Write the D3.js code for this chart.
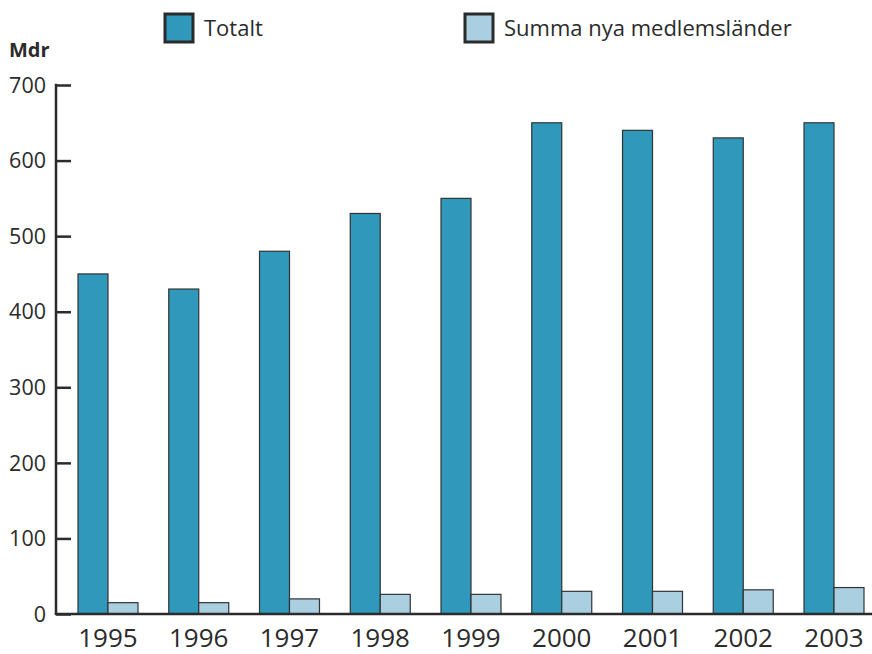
<!DOCTYPE html>
<html>
<head>
<meta charset="utf-8">
<script src="https://cdn.jsdelivr.net/npm/d3@7"></script>
<style>
  body { margin: 0; background: #fff; }
  svg { display: block; font-family: "Open Sans", "Liberation Sans", Arial, sans-serif; }
</style>
</head>
<body>
<svg id="chart" width="872" height="654"></svg>
<script>
// Données
const years = ["1995", "1996", "1997", "1998", "1999", "2000", "2001", "2002", "2003"];
const totalt = [450, 430, 480, 530, 550, 650, 640, 630, 650];
const nyaMedlem = [15, 15, 20, 26, 26, 30, 30, 32, 35];
const seriesNames = ["Totalt", "Summa nya medlemsländer"];
const yTicks = [0, 100, 200, 300, 400, 500, 600, 700];

const colors = ["#2f98bb", "#a9cfe1"];
const textColor = "#2b2b2b";

const svg = d3.select('#chart');

const rows = years.map((y, i) => ({year: y, values: [totalt[i], nyaMedlem[i]]}));

// Échelles
const x = d3.scaleBand()
    .domain(years)
    .range([78, 864])
    .paddingInner(0.339)
    .paddingOuter(0);

const xSub = d3.scaleBand()
    .domain([0, 1])
    .range([0, x.bandwidth()]);

const y = d3.scaleLinear()
    .domain([0, 700])
    .range([614, 85]);

const axisX = 56;

// Barres
const groups = svg.append('g')
    .selectAll('g')
    .data(rows)
    .enter()
    .append('g')
    .attr('transform', d => `translate(${x(d.year)},0)`);

groups.selectAll('rect')
    .data(d => d.values.map((v, k) => ({k, v})))
    .enter()
    .append('rect')
    .attr('x', d => xSub(d.k))
    .attr('y', d => y(d.v))
    .attr('width', xSub.bandwidth())
    .attr('height', d => y(0) - y(d.v))
    .attr('fill', d => colors[d.k])
    .attr('stroke', '#333')
    .attr('stroke-width', 1.2);

// Axe Y
const yAxis = svg.append('g')
    .attr('transform', `translate(${axisX},0)`)
    .call(d3.axisRight(y).tickValues(yTicks).tickSize(15).tickFormat(''));
yAxis.select('.domain').remove();
yAxis.selectAll('line').attr('stroke', textColor).attr('stroke-width', 2.5);

svg.append('line')
    .attr('x1', axisX).attr('x2', axisX)
    .attr('y1', y(700) - 1.2).attr('y2', y(0))
    .attr('stroke', textColor).attr('stroke-width', 2.5);

svg.append('g')
    .selectAll('text')
    .data(yTicks)
    .enter()
    .append('text')
    .attr('x', 46)
    .attr('y', d => y(d))
    .attr('dy', '0.36em')
    .attr('text-anchor', 'end')
    .attr('font-size', 21.5)
    .attr('fill', textColor)
    .text(d => d);

// Axe X
svg.append('line')
    .attr('x1', axisX - 1.2).attr('x2', 872)
    .attr('y1', y(0)).attr('y2', y(0))
    .attr('stroke', textColor).attr('stroke-width', 2.5);

svg.append('g')
    .selectAll('text')
    .data(years)
    .enter()
    .append('text')
    .attr('x', d => x(d) + x.bandwidth() / 2)
    .attr('y', 647)
    .attr('text-anchor', 'middle')
    .attr('font-size', 26)
    .attr('fill', textColor)
    .text(d => d);

// Unité
svg.append('text')
    .attr('x', 9)
    .attr('y', 57)
    .attr('font-size', 20)
    .attr('font-weight', 'bold')
    .attr('fill', textColor)
    .text('Mdr');

// Légende
const legendX = [165, 465];
const legend = svg.append('g')
    .selectAll('g')
    .data(seriesNames)
    .enter()
    .append('g')
    .attr('transform', (d, i) => `translate(${legendX[i]},14)`);

legend.append('rect')
    .attr('width', 28)
    .attr('height', 28)
    .attr('fill', (d, i) => colors[i])
    .attr('stroke', textColor)
    .attr('stroke-width', 3);

legend.append('text')
    .attr('x', 39)
    .attr('y', 22)
    .attr('font-size', 22)
    .attr('fill', textColor)
    .text(d => d);
</script>
</body>
</html>
